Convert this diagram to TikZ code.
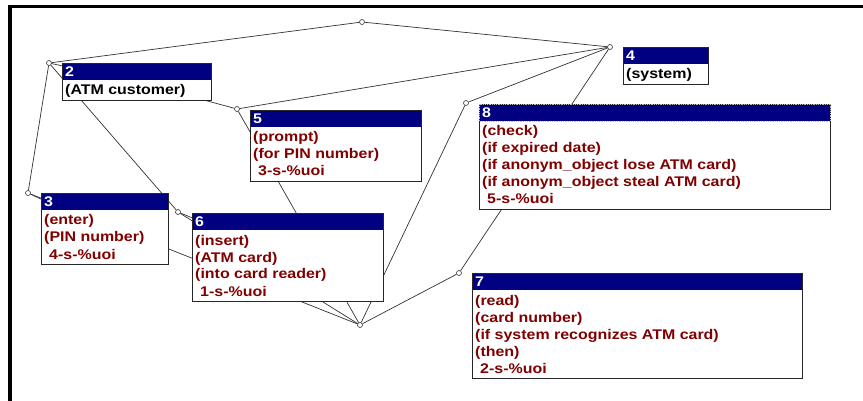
\documentclass[tikz,border=0pt]{standalone}
\usepackage{fontspec}
\newfontfamily\boxfont{Liberation Sans}[FakeStretch=1.14]
\usetikzlibrary{calc}
\definecolor{hdr}{RGB}{0,0,128}
\definecolor{txt}{RGB}{128,0,0}
\pgfdeclarelayer{paper}
\pgfdeclarelayer{bg}
\pgfsetlayers{paper,bg,main}
\tikzset{
  box/.style={draw=black!85, fill=white, line width=0.8pt, anchor=north west, inner sep=0pt, rectangle},
  hdrtext/.style={text=white, font=\boxfont\bfseries\fontsize{14}{17}\selectfont, inner sep=0pt, anchor=base west},
  bodytext/.style={font=\boxfont\bfseries\fontsize{14}{17}\selectfont, inner sep=0pt, anchor=base west},
  link/.style={circle, draw=black!80, fill=white, inner sep=0pt, minimum size=5pt, line width=0.6pt},
  edge/.style={draw=black!80, line width=0.7pt},
  frameline/.style={line width=3.5pt, black}
}
\newcommand\ATMbox[8]{%
  \node[box, minimum width={#4-#2}, minimum height={20+17*#5}] (#1) at (#2,#3) {};
  \fill[hdr] (#1.north west) rectangle ([yshift=-17pt]#1.north east);
  \node[hdrtext] (#1-h) at ($(#1.north west)+(3,13.5)$) {#6};
  \foreach \ln [count=\i] in {#8} {
    \node[bodytext, text=#7] (#1-l\i) at ($(#1.north west)+(3,{32+17*(\i-1)})$) {\ln};
  }
  \draw[draw=black!85, line width=0.8pt] (#1.north west) rectangle (#1.south east);
}
\begin{document}
\begin{tikzpicture}[x=1pt, y=-1pt]
\useasboundingbox (0,0) rectangle (863,401);
\begin{pgfonlayer}{paper}
\fill[white] (0,0) rectangle (863,401);
\end{pgfonlayer}
% frame
\draw[frameline] (8,6.5) -- (863,6.5);
\draw[frameline] (10,5) -- (10,401);

% boxes
\ATMbox{b2}{62}{63}{211}{1}{2}{black}{(ATM customer)}
\ATMbox{b4}{623}{47}{708}{1}{4}{black}{(system)}
\ATMbox{b5}{250}{110}{421}{3}{5}{txt}{(prompt),(for PIN number),\hspace*{5pt}3-s-\%uoi}
\ATMbox{b3}{41}{193}{168}{3}{3}{txt}{(enter),(PIN number),\hspace*{5pt}4-s-\%uoi}
\ATMbox{b6}{192}{213}{383}{4}{6}{txt}{(insert),(ATM card),(into card reader),\hspace*{5pt}1-s-\%uoi}
\ATMbox{b8}{479}{104}{830}{5}{8}{txt}{(check),(if expired date),(if anonym\_object lose ATM card),(if anonym\_object steal ATM card),\hspace*{5pt}5-s-\%uoi}
\ATMbox{b7}{472}{273}{802}{5}{7}{txt}{(read),(card number),(if system recognizes ATM card),(then),\hspace*{5pt}2-s-\%uoi}
\draw[densely dotted, white!75!black, line width=0.8pt] (b8.north west) rectangle ([yshift=-17pt]b8.north east);

% link points
\node[link] (T) at (362,22) {};
\node[link] (c2) at (49,63) {};
\node[link] (c3) at (28,193) {};
\node[link] (c5) at (237,109) {};
\node[link] (c6) at (178,212) {};
\node[link] (c4) at (610,47) {};
\node[link] (c8) at (466,103) {};
\node[link] (c7) at (459,273) {};
\node[link] (hub) at (360,325) {};

\begin{pgfonlayer}{bg}
\draw[edge] (T) -- (c2);
\draw[edge] (T) -- (c4);
\draw[edge] (c2) -- (c3);
\draw[edge] (c2) -- (c6);
\draw[edge] (c2) -- (b2.center);
\draw[edge] (c3) -- (b3.center);
\draw[edge] (c3) -- (hub);
\draw[edge] (c5) -- (b2.center);
\draw[edge] (c5) -- (c4);
\draw[edge] (c5) -- (hub);
\draw[edge] (c6) -- (b6.center);
\draw[edge] (c6) -- (hub);
\draw[edge] (c8) -- (c4);
\draw[edge] (c8) -- (hub);
\draw[edge] (c4) -- (c7);
\draw[edge] (c7) -- (hub);
\end{pgfonlayer}
\end{tikzpicture}
\end{document}
